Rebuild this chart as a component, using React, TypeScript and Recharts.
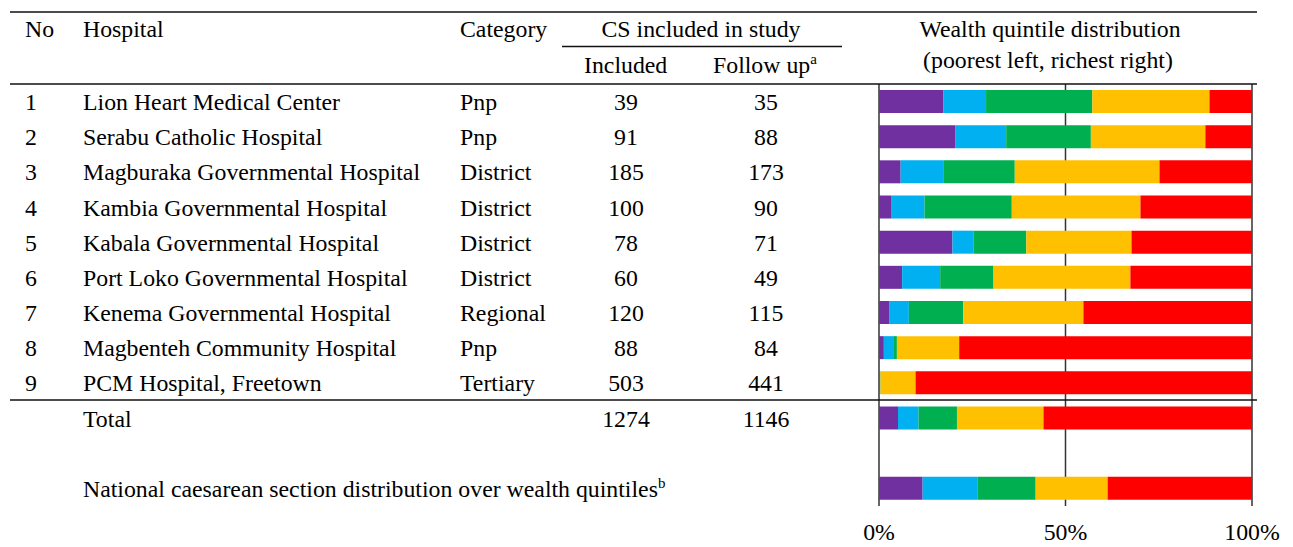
import { BarChart, Bar, XAxis, YAxis, CartesianGrid } from 'recharts';

const FONT = "'Liberation Serif', 'Times New Roman', serif";
const FS = 23.8;

// table columns, one entry per row (row 11 is the empty spacer row)
const rowNo = ['1', '2', '3', '4', '5', '6', '7', '8', '9', '', '', ''];
const hospitals = [
  'Lion Heart Medical Center',
  'Serabu Catholic Hospital',
  'Magburaka Governmental Hospital',
  'Kambia Governmental Hospital',
  'Kabala Governmental Hospital',
  'Port Loko Governmental Hospital',
  'Kenema Governmental Hospital',
  'Magbenteh Community Hospital',
  'PCM Hospital, Freetown',
  'Total',
  '',
  'National caesarean section distribution over wealth quintiles',
];
const categories = ['Pnp', 'Pnp', 'District', 'District', 'District', 'District', 'Regional', 'Pnp', 'Tertiary', '', '', ''];
const included = ['39', '91', '185', '100', '78', '60', '120', '88', '503', '1274', '', ''];
const followUp = ['35', '88', '173', '90', '71', '49', '115', '84', '441', '1146', '', ''];

// wealth quintile shares (%), poorest -> richest
const q1 = [17.2, 20.4, 5.8, 3.4, 19.7, 6.2, 2.7, 1.3, 0.2, 5.1, null, 11.7];
const q2 = [11.5, 13.7, 11.6, 8.8, 5.7, 10.2, 5.3, 2.5, 0.1, 5.5, null, 14.8];
const q3 = [28.5, 22.7, 19.0, 23.4, 14.1, 14.3, 14.6, 1.0, 0.1, 10.3, null, 15.5];
const q4 = [31.4, 30.7, 38.8, 34.5, 28.2, 36.7, 32.2, 16.7, 9.4, 23.2, null, 19.3];
const q5 = [11.4, 12.5, 24.8, 29.9, 32.3, 32.6, 45.2, 78.5, 90.2, 55.9, null, 38.7];

const quintileColors = ['#7030A0', '#00B0F0', '#00B050', '#FFC000', '#FF0000'];
const xTicks = [0, 50, 100];

const rows = hospitals.map((h, i) => ({
  id: `r${i}`,
  q1: q1[i],
  q2: q2[i],
  q3: q3[i],
  q4: q4[i],
  q5: q5[i],
}));

function TableTick(props: any) {
  const { y, payload } = props;
  const i = rows.findIndex((r) => r.id === payload.value);
  if (i < 0) return null;
  const t = { fontFamily: FONT, fontSize: FS, fill: '#000', dy: '0.36em' };
  return (
    <g>
      <text x={25} y={y} {...t}>{rowNo[i]}</text>
      <text x={83} y={y} {...t}>
        {hospitals[i]}
        {i === 11 && <tspan dy={-9} fontSize={15}>b</tspan>}
      </text>
      <text x={460} y={y} {...t}>{categories[i]}</text>
      <text x={626} y={y} textAnchor="middle" {...t}>{included[i]}</text>
      <text x={766} y={y} textAnchor="middle" {...t}>{followUp[i]}</text>
    </g>
  );
}

export default function App() {
  const head = { fontFamily: FONT, fontSize: FS, fill: '#000' };
  return (
    <div style={{ position: 'absolute', left: 0, top: 0, width: 1293, height: 547, background: '#fff' }}>
      <BarChart
        width={1293}
        height={547}
        data={rows}
        layout="vertical"
        margin={{ top: 84, right: 41, bottom: 0, left: 0 }}
        barSize={23}
      >
        <CartesianGrid horizontal={false} stroke="#333" strokeWidth={1.5} />
        <XAxis
          type="number"
          domain={[0, 100]}
          ticks={xTicks}
          tickFormatter={(v) => `${v}%`}
          axisLine={false}
          tickLine={false}
          height={41}
          tickMargin={11}
          tick={{ fontFamily: FONT, fontSize: FS, fill: '#000' }}
        />
        <YAxis
          type="category"
          dataKey="id"
          width={879}
          axisLine={false}
          tickLine={false}
          interval={0}
          tick={<TableTick />}
        />
        {['q1', 'q2', 'q3', 'q4', 'q5'].map((k, i) => (
          <Bar key={k} dataKey={k} stackId="w" fill={quintileColors[i]} isAnimationActive={false} />
        ))}
      </BarChart>
      <svg width={1293} height={547} style={{ position: 'absolute', left: 0, top: 0, pointerEvents: 'none' }}>
        <line x1={10} x2={1257} y1={12} y2={12} stroke="#111" strokeWidth={1.5} />
        <line x1={10} x2={1257} y1={84} y2={84} stroke="#111" strokeWidth={1.5} />
        <line x1={10} x2={1257} y1={400} y2={400} stroke="#111" strokeWidth={1.5} />
        <line x1={562} x2={842} y1={46.5} y2={46.5} stroke="#111" strokeWidth={1.5} />
        <text x={25} y={37} {...head}>No</text>
        <text x={83} y={37} {...head}>Hospital</text>
        <text x={460} y={37} {...head}>Category</text>
        <text x={701} y={37} textAnchor="middle" {...head}>CS included in study</text>
        <text x={584} y={73} {...head}>Included</text>
        <text x={713} y={73} {...head}>
          Follow up<tspan dy={-9} fontSize={15}>a</tspan>
        </text>
        <text x={1050} y={37} textAnchor="middle" {...head}>Wealth quintile distribution</text>
        <text x={1048} y={68} textAnchor="middle" {...head}>(poorest left, richest right)</text>
      </svg>
    </div>
  );
}
